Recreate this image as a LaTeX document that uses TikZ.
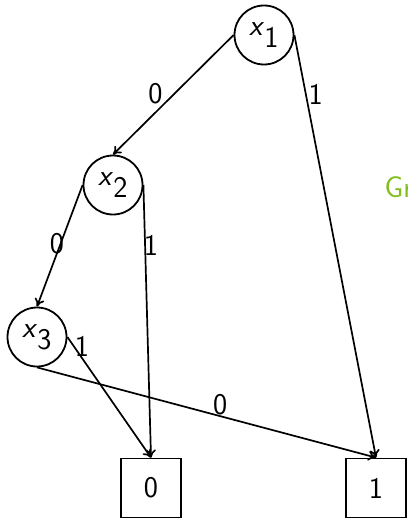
\documentclass[tikz,border=0pt]{standalone}
\usetikzlibrary{arrows.meta}
\definecolor{bgreen}{RGB}{130,190,30}
\newcommand\vx[1]{\textsf{\textit{x}}$_{\textsf{#1}}$}
\begin{document}
\begin{tikzpicture}[x=1pt,y=-1pt,
  every node/.style={font=\sffamily\fontsize{30}{35}\selectfont},
  var/.style={circle,draw,line width=1.8pt,minimum size=59pt,inner sep=0pt},
  term/.style={rectangle,draw,line width=1.8pt,minimum width=60pt,minimum height=59pt,inner sep=0pt},
  edge/.style={line width=1.7pt,-{To[length=8pt,width=10pt]}},
  lab/.style={inner sep=2pt}]
\useasboundingbox (0,0) rectangle (407,519);
\node[var] (x1) at (264,35) {\vx{1}};
\node[var] (x2) at (113,185) {\vx{2}};
\node[var] (x3) at (37,337) {\vx{3}};
\node[term] (t0) at (151,488) {0};
\node[term] (t1) at (376,488) {1};
\node[text=bgreen,anchor=west] (gr) at (381,187) {Gr};
\draw[edge] (x1.west) -- node[lab,above left,pos=0.6,xshift=4pt]{0} (x2.north);
\draw[edge] (x1.east) -- node[lab,right,pos=0.14]{1} (t1.north);
\draw[edge] (x2.west) -- node[lab,left,pos=0.48,xshift=6pt]{0} (x3.north);
\draw[edge] (x2.east) -- node[lab,right,pos=0.22,xshift=-4pt]{1} (t0.north);
\draw[edge] (x3.east) -- node[lab,right,pos=0.08,xshift=-2pt]{1} (t0.north);
\draw[edge] (x3.south) -- node[lab,above,pos=0.54,yshift=-2pt]{0} (t1.north);
\end{tikzpicture}
\end{document}
